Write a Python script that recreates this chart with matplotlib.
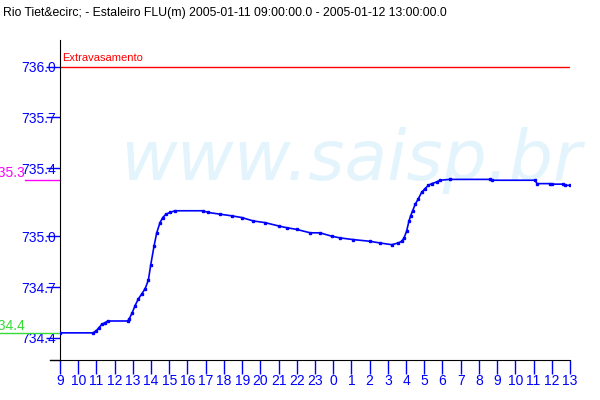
import matplotlib
matplotlib.use('Agg')
import matplotlib.pyplot as plt
import matplotlib.transforms as mtransforms

# hours since 2005-01-11 00:00 (values > 24 are on the 12th)
hours = [9.0, 10.81, 10.96, 11.14, 11.29, 11.47, 11.62, 12.72, 12.79, 12.97,
         13.12, 13.30, 13.49, 13.67, 13.85, 13.98, 14.16, 14.31, 14.49, 14.64,
         14.82, 15.04, 15.31, 16.83, 17.14, 17.78, 18.43, 18.98, 19.61, 20.26,
         21.02, 21.45, 22.00, 22.73, 23.27, 23.92, 24.37, 25.10, 26.02, 26.57,
         27.21, 27.57, 27.76, 27.89, 28.03, 28.16, 28.25, 28.36, 28.51, 28.67,
         28.86, 29.04, 29.22, 29.41, 29.68, 29.86, 30.41, 32.61, 32.72, 35.08,
         35.19, 35.90, 36.01, 36.62, 36.73, 37.0]
level = [734.43, 734.43, 734.44, 734.46, 734.48, 734.49, 734.50, 734.50, 734.51, 734.55,
         734.59, 734.63, 734.66, 734.69, 734.74, 734.83, 734.94, 735.02, 735.08, 735.11,
         735.13, 735.14, 735.15, 735.15, 735.14, 735.13, 735.12, 735.11, 735.09, 735.08,
         735.06, 735.05, 735.04, 735.02, 735.02, 735.00, 734.99, 734.98, 734.97, 734.96,
         734.95, 734.96, 734.97, 734.99, 735.03, 735.09, 735.12, 735.15, 735.19, 735.22,
         735.26, 735.28, 735.30, 735.31, 735.32, 735.33, 735.335, 735.335, 735.33, 735.33,
         735.31, 735.31, 735.307, 735.307, 735.30, 735.30]

y_ticks = [736.0, 735.7, 735.4, 735.0, 734.7, 734.4]
x_ticks = list(range(9, 38))
x_labels = [str(h % 24) for h in x_ticks]

limit_value = 736.0
limit_label = 'Extravasamento'
max_value = 735.33
min_value = 734.43

title = 'Rio Tiet&ecirc; - Estaleiro FLU(m) 2005-01-11 09:00:00.0 - 2005-01-12 13:00:00.0'

plt.rcParams['font.family'] = ['Liberation Sans', 'DejaVu Sans']

fig = plt.figure(figsize=(6, 4), dpi=100)
ax = fig.add_axes([0.1, 0.1, 0.85, 0.8])

# watermark
ax.text(0.2, 0.55, 'www.saisp.br', transform=fig.transFigure, fontsize=50,
        family='DejaVu Sans', style='italic', color='#e3f4fc', ha='left',
        va='baseline', zorder=0, clip_on=False)

# flood level line
ax.axhline(limit_value, color='red', lw=1, zorder=1)
ax.text(9.1, limit_value + 0.02, limit_label, color='red', fontsize=8,
        ha='left', va='bottom')

# series
ax.plot(hours, level, color='blue', lw=1.2, marker='s', markersize=1.6, zorder=3)

# max / min markers left of the axis
blend = mtransforms.blended_transform_factory(ax.transAxes, ax.transData)
ax.plot([-0.069, 0], [max_value, max_value], color='magenta', lw=1,
        transform=blend, clip_on=False)
ax.text(-0.069, max_value, f'{max_value:.1f}', color='magenta', fontsize=10,
        ha='right', va='bottom', transform=blend)
ax.plot([-0.118, 0], [min_value, min_value], color='#33dd33', lw=1,
        transform=blend, clip_on=False)
ax.text(-0.069, min_value, f'{min_value:.1f}', color='#33dd33', fontsize=10,
        ha='right', va='bottom', transform=blend)

ax.set_xlim(9, 37)
ax.set_ylim(734.27, 736.157)

ax.set_xticks(x_ticks)
ax.set_xticklabels(x_labels)
ax.set_yticks(y_ticks)
ax.set_yticklabels([f'{v:.1f}' for v in y_ticks])
ax.tick_params(axis='x', colors='blue', length=10, width=1, pad=0, labelsize=10)
ax.tick_params(axis='y', colors='blue', length=10, width=1, pad=-7, labelsize=10)

for s in ['top', 'right']:
    ax.spines[s].set_visible(False)
ax.spines['left'].set_color('black')
ax.spines['bottom'].set_color('black')
ax.plot([-10 / 510, 0], [0, 0], color='black', lw=1, transform=ax.transAxes,
        clip_on=False)

fig.text(0.005, 0.968, title, fontsize=8.8, color='black', ha='left', va='center')

fig.savefig('out.png', dpi=100)
